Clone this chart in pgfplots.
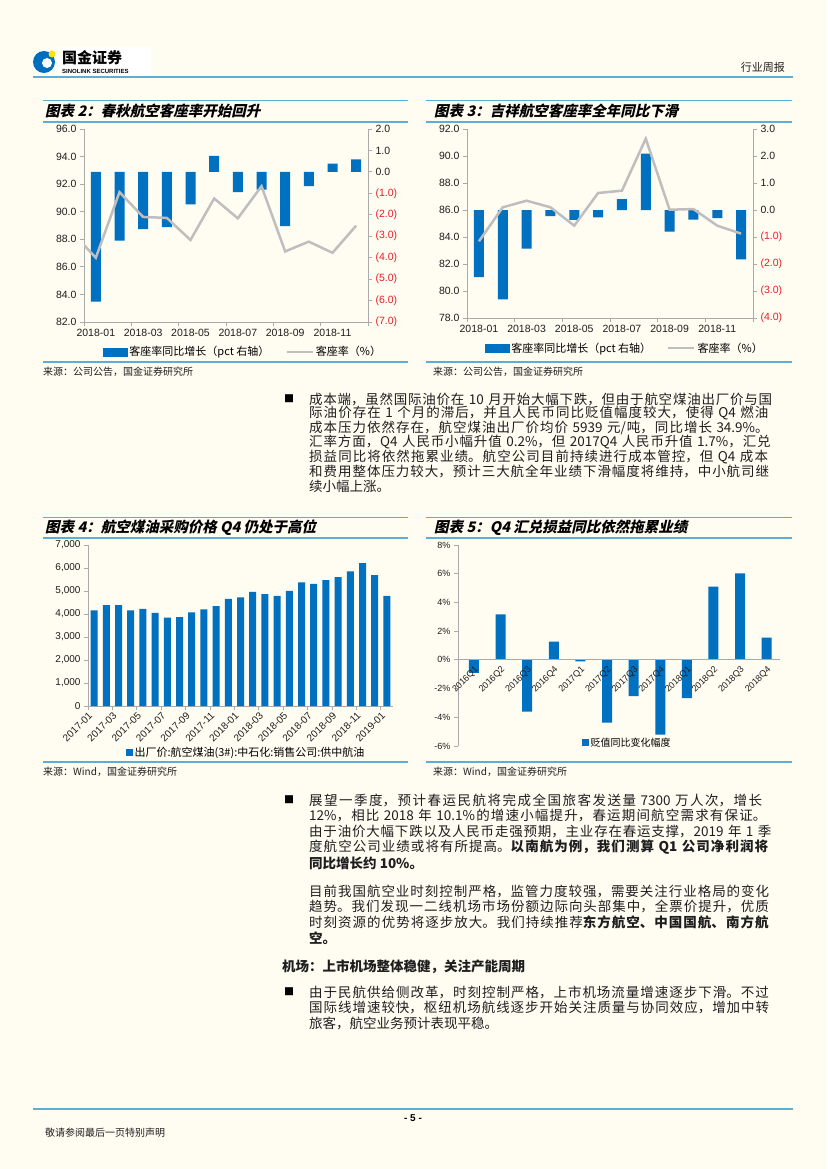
\documentclass[border=0pt]{standalone}
\usepackage{pgfplots}
\pgfplotsset{compat=1.18}
\usepackage{fontspec}
\setmainfont{Liberation Sans}
\newfontfamily\cjk{Noto Sans CJK SC}
\newfontfamily\cjksl{Noto Sans CJK SC}[FakeSlant=0.22]
\XeTeXlinebreaklocale "zh"
\XeTeXlinebreakskip=0pt plus 2pt minus 0.3pt
\definecolor{bg}{RGB}{255,252,242}
\definecolor{rule}{RGB}{91,174,214}
\definecolor{barblue}{RGB}{0,112,192}
\definecolor{linegray}{RGB}{190,190,190}
\definecolor{axgray}{RGB}{170,170,170}
\definecolor{negred}{RGB}{232,30,40}
\definecolor{txt}{RGB}{30,30,30}
\definecolor{logoblue}{RGB}{0,110,190}
\newcommand\body{\cjk\fontsize{13.5}{15}\selectfont\color{txt}}
\newcommand\J[3]{\node[anchor=west,inner sep=0pt,text width=473pt,font=\body] at (#1pt,-#2pt) {\tolerance=10000\parfillskip=0pt #3\par};}
\newcommand\Lf[3]{\node[anchor=west,inner sep=0pt,font=\body] at (#1pt,-#2pt) {#3};}
\newcommand\ttl[3]{\node[anchor=west,inner sep=0pt,font=\cjksl\bfseries\fontsize{14.5}{16}\selectfont\color{black}] at (#1pt,-#2pt) {#3};}
\newcommand\src[3]{\node[anchor=west,inner sep=0pt,font=\cjk\fontsize{10}{12}\selectfont\color{txt}] at (#1pt,-#2pt) {#3};}
\pgfplotsset{
  base/.style={scale only axis, anchor=south west,
    axis line style={axgray, line width=0.8pt},
    every tick/.style={axgray, line width=0.8pt},
    tick align=outside, major tick length=4pt, minor tick length=4pt,
    tick label style={font=\fontsize{10.5}{12}\selectfont, text=txt},
    /pgf/number format/assume math mode=true},
}
\begin{document}
\begin{tikzpicture}
\useasboundingbox (0pt,0pt) rectangle (827pt,-1169pt);
\fill[bg] (0pt,0pt) rectangle (827pt,-1169pt);

% header
\fill[white] (58pt,-47pt) rectangle (151pt,-75pt);
\fill[logoblue] (44pt,-62pt) circle (11pt);
\fill[white] (47pt,-63pt) circle (5pt);
\fill[yellow!85!orange] (52pt,-54pt) circle (3.5pt);
\node[anchor=west,inner sep=0pt,font=\cjk\bfseries\fontsize{15}{17}\selectfont] at (62pt,-58pt) {国金证券};
\node[anchor=west,inner sep=0pt,font=\bfseries\fontsize{6}{7}\selectfont] at (62pt,-71pt) {SINOLINK SECURITIES};
\node[anchor=east,inner sep=0pt,font=\cjk\fontsize{11}{13}\selectfont\color{txt}] at (785pt,-67pt) {行业周报};
\draw[rule, line width=1.6pt] (33pt,-77pt) -- (793pt,-77pt);

% chart frames
\foreach \a/\b in {43/408, 426/792}{
  \draw[rule, line width=1.2pt] (\a pt,-100.5pt) -- (\b pt,-100.5pt);
  \draw[rule, line width=1.2pt] (\a pt,-122pt) -- (\b pt,-122pt);
  \draw[rule, line width=1.2pt] (\a pt,-362pt) -- (\b pt,-362pt);
  \draw[rule, line width=1.2pt] (\a pt,-517.5pt) -- (\b pt,-517.5pt);
  \draw[rule, line width=1.2pt] (\a pt,-538pt) -- (\b pt,-538pt);
  \draw[rule, line width=1.2pt] (\a pt,-762pt) -- (\b pt,-762pt);
}
\ttl{45}{111}{图表 2：春秋航空客座率开始回升}
\ttl{434}{111}{图表 3：吉祥航空客座率全年同比下滑}
\ttl{45}{528}{图表 4：航空煤油采购价格 Q4 仍处于高位}
\ttl{434}{528}{图表 5：Q4 汇兑损益同比依然拖累业绩}
\src{43}{372}{来源：公司公告，国金证券研究所}
\src{433}{372}{来源：公司公告，国金证券研究所}
\src{43}{772}{来源：Wind，国金证券研究所}
\src{433}{772}{来源：Wind，国金证券研究所}

% ---------- chart 2 ----------
\begin{axis}[base, at={(84pt,-322pt)}, width=284pt, height=193pt,
  xmin=-0.5, xmax=11.5, ymin=-7, ymax=2,
  axis x line*=bottom, axis y line*=right,
  xtick={0,2,...,10}, xticklabels={2018-01,2018-03,2018-05,2018-07,2018-09,2018-11},
  minor xtick={-0.5,1.5,...,11.5}, major x tick style={draw=none},
  ytick={-7,...,2},
  yticklabels={\textcolor{negred}{(7.0)},\textcolor{negred}{(6.0)},\textcolor{negred}{(5.0)},\textcolor{negred}{(4.0)},\textcolor{negred}{(3.0)},\textcolor{negred}{(2.0)},\textcolor{negred}{(1.0)},0.0,1.0,2.0}]
\addplot[ybar, bar width=10pt, fill=barblue, draw=none] coordinates {(0,-6.05) (1,-3.21) (2,-2.67) (3,-2.57) (4,-1.51) (5,0.75) (6,-0.94) (7,-0.83) (8,-2.53) (9,-0.66) (10,0.39) (11,0.58)};
\end{axis}
\begin{axis}[base, at={(84pt,-322pt)}, width=284pt, height=193pt,
  xmin=-0.5, xmax=11.5, ymin=82, ymax=96, ytick={82,84,...,96},
  axis x line=none, axis y line*=left,
  yticklabel style={/pgf/number format/fixed, /pgf/number format/fixed zerofill, /pgf/number format/precision=1},
  legend style={at={(0.56,-0.155)}, anchor=center, draw=none, fill=none, font=\cjk\fontsize{11}{13}\selectfont, legend columns=2, /tikz/every even column/.append style={column sep=14pt}}]
\addlegendimage{legend image code/.code={\fill[barblue] (0pt,-4pt) rectangle (24pt,4pt);}}
\addlegendentry{客座率同比增长（pct 右轴）}
\addplot[linegray, line width=2.5pt, legend image code/.code={\draw[linegray, line width=2.5pt] (0pt,0pt) -- (26pt,0pt);}] coordinates {(-1,88.5) (0,86.66) (1,91.42) (2,89.62) (3,89.55) (4,87.95) (5,90.96) (6,89.52) (7,91.85) (8,87.12) (9,87.83) (10,87.02) (11,88.99)};
\addlegendentry{客座率（\%）}
\end{axis}

% ---------- chart 3 ----------
\begin{axis}[base, at={(467pt,-318pt)}, width=286pt, height=189pt,
  xmin=-0.5, xmax=11.5, ymin=-4, ymax=3,
  axis x line*=bottom, axis y line*=right,
  xtick={0,2,...,10}, xticklabels={2018-01,2018-03,2018-05,2018-07,2018-09,2018-11},
  minor xtick={-0.5,1.5,...,11.5}, major x tick style={draw=none},
  ytick={-4,...,3},
  yticklabels={\textcolor{negred}{(4.0)},\textcolor{negred}{(3.0)},\textcolor{negred}{(2.0)},\textcolor{negred}{(1.0)},0.0,1.0,2.0,3.0}]
\addplot[ybar, bar width=10pt, fill=barblue, draw=none] coordinates {(0,-2.49) (1,-3.31) (2,-1.43) (3,-0.23) (4,-0.37) (5,-0.27) (6,0.40) (7,2.09) (8,-0.80) (9,-0.36) (10,-0.30) (11,-1.83)};
\end{axis}
\begin{axis}[base, at={(467pt,-318pt)}, width=286pt, height=189pt,
  xmin=-0.5, xmax=11.5, ymin=78, ymax=92, ytick={78,80,...,92},
  axis x line=none, axis y line*=left,
  yticklabel style={/pgf/number format/fixed, /pgf/number format/fixed zerofill, /pgf/number format/precision=1},
  legend style={at={(0.552,-0.16)}, anchor=center, draw=none, fill=none, font=\cjk\fontsize{11}{13}\selectfont, legend columns=2, /tikz/every even column/.append style={column sep=14pt}}]
\addlegendimage{legend image code/.code={\fill[barblue] (0pt,-4pt) rectangle (24pt,4pt);}}
\addlegendentry{客座率同比增长（pct 右轴）}
\addplot[linegray, line width=2.5pt, legend image code/.code={\draw[linegray, line width=2.5pt] (0pt,0pt) -- (26pt,0pt);}] coordinates {(0,83.68) (1,86.20) (2,86.69) (3,86.20) (4,84.84) (5,87.26) (6,87.43) (7,91.28) (8,86.02) (9,86.07) (10,84.84) (11,84.25)};
\addlegendentry{客座率（\%）}
\end{axis}

% ---------- chart 4 ----------
\begin{axis}[base, at={(88pt,-706pt)}, width=305pt, height=161pt,
  xmin=-0.5, xmax=24.5, ymin=0, ymax=7000,
  axis x line*=bottom, axis y line*=left,
  ytick={0,1000,...,7000}, scaled y ticks=false,
  yticklabel style={/pgf/number format/1000 sep={,}},
  tick label style={font=\fontsize{10}{11}\selectfont},
  xtick={-0.5,1.5,...,23.5},
  xticklabels={2017-01,2017-03,2017-05,2017-07,2017-09,2017-11,2018-01,2018-03,2018-05,2018-07,2018-09,2018-11,2019-01},
  xticklabel style={rotate=45, anchor=north east, inner sep=1pt},
  legend style={at={(0.518,-0.29)}, anchor=center, draw=none, fill=none, font=\cjk\fontsize{11}{13}\selectfont}]
\addplot[ybar, bar width=7pt, fill=barblue, draw=none, legend image code/.code={\fill[barblue] (0pt,-3.5pt) rectangle (7pt,3.5pt);}] coordinates {(0,4153) (1,4386) (2,4386) (3,4153) (4,4226) (5,4052) (6,3848) (7,3863) (8,4066) (9,4197) (10,4342) (11,4662) (12,4720) (13,4967) (14,4865) (15,4792) (16,5010) (17,5373) (18,5315) (19,5475) (20,5606) (21,5852) (22,6215) (23,5693) (24,4792)};
\addlegendentry{出厂价:航空煤油(3\#):中石化:销售公司:供中航油}
\end{axis}

% ---------- chart 5 ----------
\begin{axis}[base, at={(458pt,-746pt)}, width=322pt, height=201pt,
  xmin=-0.6, xmax=11.5, ymin=-6, ymax=8, axis on top,
  axis x line*=middle, axis y line*=left,
  hide obscured x ticks=false, hide obscured y ticks=false,
  ytick={-6,-4,...,8}, yticklabel={\pgfmathprintnumber{\tick}\%},
  tick label style={font=\fontsize{9}{10}\selectfont},
  xtick={0,...,11}, major x tick style={draw=none},
  xticklabels={2016Q1,2016Q2,2016Q3,2016Q4,2017Q1,2017Q2,2017Q3,2017Q4,2018Q1,2018Q2,2018Q3,2018Q4},
  xticklabel style={rotate=45, anchor=north east, inner sep=1pt},
  legend style={at={(0.525,0.015)}, anchor=center, draw=none, fill=none, font=\cjk\fontsize{10}{12}\selectfont}]
\addplot[ybar, bar width=10pt, fill=barblue, draw=none, legend image code/.code={\fill[barblue] (0pt,-3.5pt) rectangle (7pt,3.5pt);}] coordinates {(0,-0.91) (1,3.17) (2,-3.61) (3,1.27) (4,-0.10) (5,-4.37) (6,-2.52) (7,-5.21) (8,-2.66) (9,5.10) (10,6.03) (11,1.55)};
\addlegendentry{贬值同比变化幅度}
\end{axis}

% ---------- text block 1 ----------
\node[anchor=center,inner sep=0pt,font=\cjk\fontsize{10}{12}\selectfont] at (289pt,-399pt) {■};
\J{309}{399}{成本端，虽然国际油价在 10 月开始大幅下跌，但由于航空煤油出厂价与国}
\J{309}{413.5}{际油价存在 1 个月的滞后，并且人民币同比贬值幅度较大，使得 Q4 燃油}
\J{309}{428}{成本压力依然存在，航空煤油出厂价均价 5939 元/吨，同比增长 34.9\%。}
\J{309}{442.5}{汇率方面，Q4 人民币小幅升值 0.2\%，但 2017Q4 人民币升值 1.7\%，汇兑}
\J{309}{457}{损益同比将依然拖累业绩。航空公司目前持续进行成本管控，但 Q4 成本}
\J{309}{471.5}{和费用整体压力较大，预计三大航全年业绩下滑幅度将维持，中小航司继}
\Lf{309}{486}{续小幅上涨。}

% ---------- text block 2 ----------
\node[anchor=center,inner sep=0pt,font=\cjk\fontsize{10}{12}\selectfont] at (289pt,-800pt) {■};
\J{309}{800}{展望一季度，预计春运民航将完成全国旅客发送量 7300 万人次，增长}
\J{309}{815.8}{12\%，相比 2018 年 10.1\%的增速小幅提升，春运期间航空需求有保证。}
\J{309}{831.6}{由于油价大幅下跌以及人民币走强预期，主业存在春运支撑，2019 年 1 季}
\J{309}{847.4}{度航空公司业绩或将有所提高。{\bfseries 以南航为例，我们测算 Q1 公司净利润将}}
\Lf{309}{863.2}{\bfseries 同比增长约 10\%。}
\J{309}{891}{目前我国航空业时刻控制严格，监管力度较强，需要关注行业格局的变化}
\J{309}{906.8}{趋势。我们发现一二线机场市场份额边际向头部集中，全票价提升，优质}
\J{309}{922.6}{时刻资源的优势将逐步放大。我们持续推荐{\bfseries 东方航空、中国国航、南方航}}
\Lf{309}{938.4}{\bfseries 空。}
\Lf{282}{966.5}{\bfseries 机场：上市机场整体稳健，关注产能周期}
\node[anchor=center,inner sep=0pt,font=\cjk\fontsize{10}{12}\selectfont] at (289pt,-992pt) {■};
\J{309}{992}{由于民航供给侧改革，时刻控制严格，上市机场流量增速逐步下滑。不过}
\J{309}{1007.8}{国际线增速较快，枢纽机场航线逐步开始关注质量与协同效应，增加中转}
\Lf{309}{1023.6}{旅客，航空业务预计表现平稳。}

% footer
\draw[rule, line width=1.6pt] (33pt,-1109pt) -- (793pt,-1109pt);
\node[inner sep=0pt,font=\bfseries\fontsize{10}{12}\selectfont] at (413pt,-1118pt) {- 5 -};
\node[anchor=west,inner sep=0pt,font=\cjk\fontsize{10}{12}\selectfont\color{txt}] at (45pt,-1133pt) {敬请参阅最后一页特别声明};
\end{tikzpicture}
\end{document}
